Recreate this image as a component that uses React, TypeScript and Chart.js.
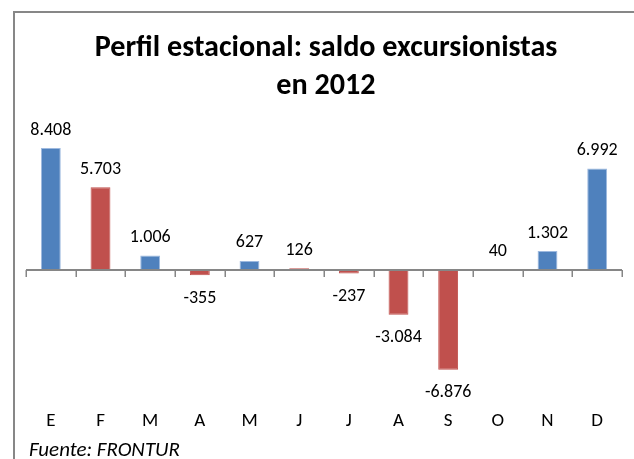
import React, { useEffect, useRef } from 'react';
import { Chart, registerables } from 'chart.js';

Chart.register(...registerables);

const months = ['E', 'F', 'M', 'A', 'M', 'J', 'J', 'A', 'S', 'O', 'N', 'D'];
const saldo = [8408, 5703, 1006, -355, 627, 126, -237, -3084, -6876, 40, 1302, 6992];
const barColors = ['#4F81BD', '#C0504D', '#4F81BD', '#C0504D', '#4F81BD', '#C0504D', '#C0504D', '#C0504D', '#C0504D', '#4F81BD', '#4F81BD', '#4F81BD'];
const titleLines = ['Perfil estacional: saldo excursionistas', 'en 2012'];
const sourceNote = 'Fuente: FRONTUR';
const yMin = -9000;
const yMax = 10000;

const FONT = 'Carlito, Lato, "Liberation Sans", sans-serif';

function fmt(v: number): string {
  const s = Math.abs(v).toString().replace(/\B(?=(\d{3})+(?!\d))/g, '.');
  return (v < 0 ? '-' : '') + s;
}

const decorPlugin = {
  id: 'decor',
  beforeDraw(chart: any) {
    const ctx = chart.ctx;
    ctx.save();
    ctx.fillStyle = '#ffffff';
    ctx.fillRect(0, 0, chart.width, chart.height);
    ctx.strokeStyle = '#878787';
    ctx.lineWidth = 2;
    ctx.beginPath();
    ctx.moveTo(14, chart.height + 5);
    ctx.lineTo(14, 12);
    ctx.lineTo(chart.width + 5, 12);
    ctx.stroke();
    ctx.restore();
  },
  afterDraw(chart: any) {
    const ctx = chart.ctx;
    ctx.save();
    // title
    ctx.fillStyle = '#000';
    ctx.textAlign = 'center';
    ctx.textBaseline = 'alphabetic';
    ctx.font = `bold 26px ${FONT}`;
    const w = ctx.measureText(titleLines[0]).width;
    const size = 26 * 463 / w;
    ctx.font = `bold ${size}px ${FONT}`;
    ctx.fillText(titleLines[0], 326, 56);
    ctx.fillText(titleLines[1], 326, 94);
    // footer
    ctx.textAlign = 'left';
    ctx.font = `italic 17px ${FONT}`;
    const fw = ctx.measureText(sourceNote).width;
    const fs = 17 * 151 / fw;
    ctx.font = `italic ${fs}px ${FONT}`;
    ctx.fillText(sourceNote, 29, 456);
    ctx.restore();
  },
  afterDatasetsDraw(chart: any) {
    const ctx = chart.ctx;
    const x = chart.scales.x;
    const y = chart.scales.y;
    const zero = y.getPixelForValue(0);
    ctx.save();
    // zero axis line and tick marks
    ctx.strokeStyle = '#868686';
    ctx.lineWidth = 2;
    ctx.beginPath();
    ctx.moveTo(chart.chartArea.left, zero);
    ctx.lineTo(chart.chartArea.right, zero);
    ctx.stroke();
    ctx.lineWidth = 1.5;
    ctx.beginPath();
    for (let i = 0; i <= months.length; i++) {
      const px = Math.round(x.getPixelForValue(i - 0.5)) + 0.25;
      ctx.moveTo(px, zero);
      ctx.lineTo(px, zero + 7);
    }
    ctx.stroke();
    // data labels
    const meta = chart.getDatasetMeta(0);
    ctx.fillStyle = '#000';
    ctx.textAlign = 'center';
    ctx.textBaseline = 'middle';
    ctx.font = `18px ${FONT}`;
    meta.data.forEach((bar: any, i: number) => {
      const v = saldo[i];
      const ty = v >= 0 ? bar.y - 18 : bar.y + 23;
      ctx.fillText(fmt(v), bar.x, ty);
    });
    ctx.restore();
  },
};

export default function App() {
  const ref = useRef<HTMLCanvasElement | null>(null);
  useEffect(() => {
    document.body.style.margin = '0';
    if (!ref.current) return;
    const chart = new Chart(ref.current, {
      type: 'bar',
      data: {
        labels: months,
        datasets: [
          {
            data: saldo,
            backgroundColor: barColors,
            borderColor: barColors.map((c) => (c === '#4F81BD' ? '#9DB9DF' : c)),
            borderWidth: 1,
            barPercentage: 0.4,
            categoryPercentage: 1,
          },
        ],
      },
      options: {
        animation: false,
        responsive: false,
        devicePixelRatio: 1,
        layout: { padding: { top: 125, left: 26, right: 12, bottom: 0 } },
        plugins: { legend: { display: false }, title: { display: false }, tooltip: { enabled: false } },
        scales: {
          x: {
            grid: { display: false, drawTicks: false },
            border: { display: false },
            ticks: { color: '#000', font: { family: FONT, size: 19 }, padding: 9, maxRotation: 0, autoSkip: false },
            afterFit: (s: any) => {
              s.height = 58.5;
            },
          },
          y: { display: false, min: yMin, max: yMax },
        },
      },
      plugins: [decorPlugin],
    });
    return () => chart.destroy();
  }, []);
  return <canvas ref={ref} width={634} height={459} style={{ display: 'block' }} />;
}
